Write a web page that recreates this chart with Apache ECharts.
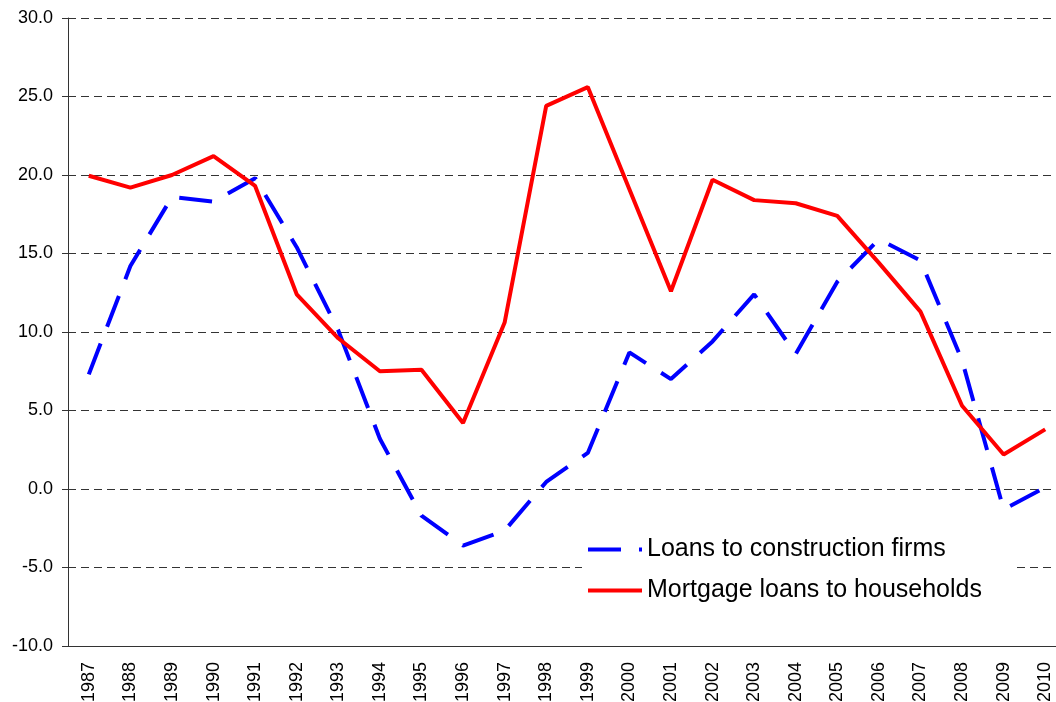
<!DOCTYPE html>
<html>
<head>
<meta charset="utf-8">
<script src="https://cdn.jsdelivr.net/npm/echarts@6/dist/echarts.min.js"></script>
<style>
    html, body { margin: 0; padding: 0; background: #fff; }
    #chart { width: 1056px; height: 702px; }
</style>
</head>
<body>
<div id="chart"></div>
<script>
    const years = ['1987', '1988', '1989', '1990', '1991', '1992', '1993', '1994', '1995', '1996', '1997', '1998',
                   '1999', '2000', '2001', '2002', '2003', '2004', '2005', '2006', '2007', '2008', '2009', '2010'];
    const construction = [7.3, 14.2, 18.6, 18.3, 19.8, 15.4, 10.1, 3.2, -1.7, -3.6, -2.65, 0.45,
                          2.3, 8.7, 7.0, 9.4, 12.4, 8.6, 13.2, 15.9, 14.55, 8.2, -1.3, 0.1];
    const mortgage = [19.95, 19.2, 20.0, 21.2, 19.3, 12.4, 9.6, 7.5, 7.6, 4.2, 10.6, 24.4,
                      25.6, 19.1, 12.6, 19.7, 18.4, 18.2, 17.4, 14.4, 11.3, 5.3, 2.2, 3.8];

    const font = 'Arial, "Liberation Sans", sans-serif';
    let chart = echarts.init(document.getElementById('chart'));
    chart.setOption({
        animation: false,
        backgroundColor: '#fff',
        // the plot runs a little past the right edge of the picture
        grid: { left: 68, top: 18, width: 998, height: 628, outerBoundsMode: 'none', containLabel: false },
        legend: {
            orient: 'vertical',
            left: 582,
            top: 531,
            padding: [6, 32, 6, 4],
            backgroundColor: '#fff',
            itemWidth: 54,
            itemHeight: 14,
            itemGap: 16,
            itemStyle: { opacity: 0 },
            lineStyle: { width: 4 },
            textStyle: { fontFamily: font, fontSize: 25, color: '#000' },
            data: ['Loans to construction firms', 'Mortgage loans to households']
        },
        xAxis: {
            type: 'category',
            boundaryGap: true,
            data: years,
            axisLine: { onZero: false, lineStyle: { color: '#333', width: 1 } },
            axisTick: { length: 6, lineStyle: { color: '#333' } },
            axisLabel: { rotate: 90, margin: 16, fontFamily: font, fontSize: 18, color: '#000' },
            splitLine: { show: false }
        },
        yAxis: {
            type: 'value',
            min: -10,
            max: 30,
            interval: 5,
            axisLine: { show: true, lineStyle: { color: '#333', width: 1 } },
            axisTick: { show: true, length: 6, lineStyle: { color: '#333' } },
            axisLabel: {
                margin: 15, fontFamily: font, fontSize: 18, color: '#000',
                formatter: function (v) { return v.toFixed(1); }
            },
            splitLine: { lineStyle: { color: '#333', width: 1, type: [8, 5] } }
        },
        series: [
            {
                name: 'Loans to construction firms',
                type: 'line',
                data: construction,
                symbol: 'none',
                lineStyle: { color: '#0000ff', width: 4, type: [33, 18] },
                itemStyle: { color: '#0000ff' }
            },
            {
                name: 'Mortgage loans to households',
                type: 'line',
                data: mortgage,
                symbol: 'none',
                lineStyle: { color: '#ff0000', width: 4 },
                itemStyle: { color: '#ff0000' }
            }
        ]
    });
</script>
</body>
</html>
